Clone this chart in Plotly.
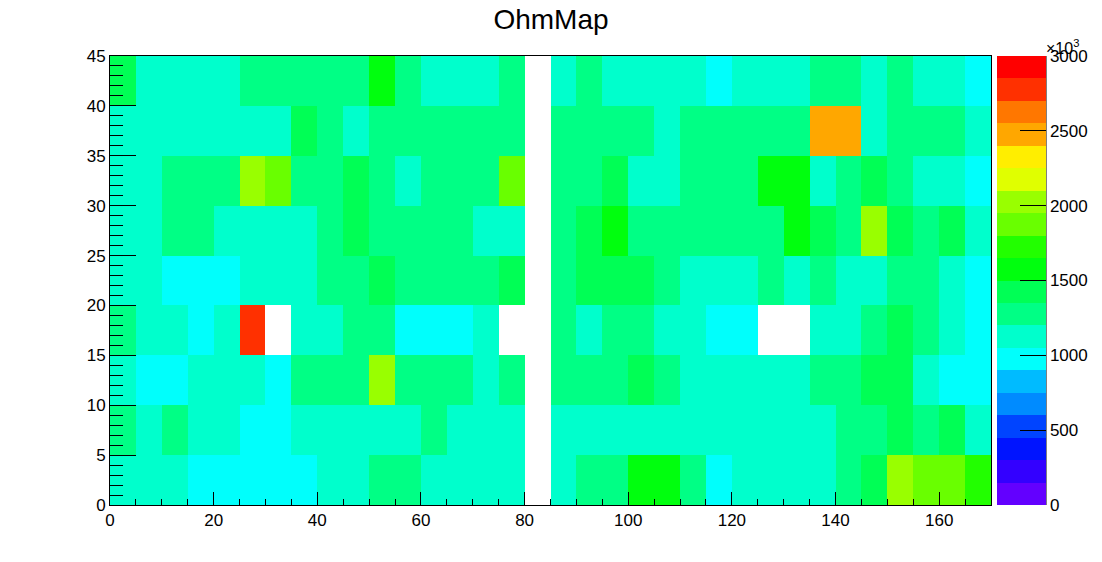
import plotly.graph_objects as go

# Bin edges of the 2-D histogram
x_edges = list(range(0, 175, 5))   # 0 .. 170, 34 bins
y_edges = list(range(0, 50, 5))    # 0 .. 45, 9 bins

# Cell values in units of 10^3 (None = empty bin, not drawn)
row_y00 = [1125, 1125, 1125, 975, 975, 975, 975, 975, 1125, 1125, 1275, 1275, 1125, 1125, 1125, 1125, None, 1125, 1275, 1275, 1575, 1575, 1275, 975, 1125, 1125, 1125, 1125, 1275, 1425, 2025, 1875, 1875, 1725]
row_y05 = [1275, 1125, 1275, 1125, 1125, 975, 975, 1125, 1125, 1125, 1125, 1125, 1275, 1125, 1125, 1125, None, 1125, 1125, 1125, 1125, 1125, 1125, 1125, 1125, 1125, 1125, 1125, 1275, 1275, 1425, 1275, 1425, 1125]
row_y10 = [1125, 975, 975, 1125, 1125, 1125, 975, 1275, 1275, 1275, 2025, 1275, 1275, 1275, 1125, 1275, None, 1275, 1275, 1275, 1425, 1275, 1125, 1125, 1125, 1125, 1125, 1275, 1275, 1425, 1425, 1125, 975, 975]
row_y15 = [1275, 1125, 1125, 975, 1125, 2775, None, 1125, 1125, 1275, 1275, 975, 975, 975, 1125, None, None, 1275, 1125, 1275, 1275, 1125, 1125, 975, 975, None, None, 1125, 1125, 1275, 1425, 1275, 1125, 975]
row_y20 = [1125, 1125, 975, 975, 975, 1125, 1125, 1125, 1275, 1275, 1425, 1275, 1275, 1275, 1275, 1425, None, 1275, 1425, 1425, 1425, 1275, 1125, 1125, 1125, 1275, 1125, 1275, 1125, 1125, 1275, 1275, 1125, 975]
row_y25 = [1125, 1125, 1275, 1275, 1125, 1125, 1125, 1125, 1275, 1425, 1275, 1275, 1275, 1275, 1125, 1125, None, 1275, 1425, 1575, 1275, 1275, 1275, 1275, 1275, 1275, 1575, 1425, 1275, 2025, 1425, 1275, 1425, 1125]
row_y30 = [1125, 1125, 1275, 1275, 1275, 2025, 1875, 1275, 1275, 1425, 1275, 1125, 1275, 1275, 1275, 1875, None, 1275, 1275, 1425, 1125, 1125, 1275, 1275, 1275, 1575, 1575, 1125, 1275, 1425, 1275, 1125, 1125, 975]
row_y35 = [1125, 1125, 1125, 1125, 1125, 1125, 1125, 1425, 1275, 1125, 1275, 1275, 1275, 1275, 1275, 1275, None, 1275, 1275, 1275, 1275, 1125, 1275, 1275, 1275, 1275, 1275, 2475, 2475, 1125, 1275, 1275, 1275, 1125]
row_y40 = [1425, 1125, 1125, 1125, 1125, 1275, 1275, 1275, 1275, 1275, 1575, 1275, 1125, 1125, 1125, 1275, None, 1125, 1275, 1125, 1125, 1125, 1125, 975, 1125, 1125, 1125, 1275, 1275, 1125, 1275, 1125, 1125, 975]

z_rows = [row_y00, row_y05, row_y10, row_y15, row_y20, row_y25, row_y30, row_y35, row_y40]

# Palette levels (20 contours, 0 .. 3000 x10^3)
palette = ["#6300ff", "#3300ff", "#0014ff", "#0044ff", "#008bff", "#00bbff",
           "#00fffc", "#00ffcc", "#00ff85", "#00ff55", "#00ff0e", "#22ff00",
           "#69ff00", "#99ff00", "#e0ff00", "#ffee00", "#ffa700", "#ff7700",
           "#ff3000", "#ff0000"]
z_min, z_max = 0, 3000
cbar_ticks = [0, 500, 1000, 1500, 2000, 2500, 3000]
x_ticks = [0, 20, 40, 60, 80, 100, 120, 140, 160]
y_ticks = [0, 5, 10, 15, 20, 25, 30, 35, 40, 45]

n = len(palette)
colorscale = []
for i, c in enumerate(palette):
    colorscale.append([i / n, c])
    colorscale.append([(i + 1) / n, c])

FONT = "Liberation Sans, Arial, Helvetica, sans-serif"
W, H = 1102, 562
L, R, T, B = 110, 991, 56, 505

fig = go.Figure()
fig.add_trace(go.Heatmap(
    x=x_edges, y=y_edges, z=z_rows,
    zmin=z_min, zmax=z_max, colorscale=colorscale,
    hoverongaps=False,
    colorbar=dict(
        thickness=49, thicknessmode="pixels",
        len=1, lenmode="fraction", y=0.5, yanchor="middle",
        x=(997 - L) / (R - L), xanchor="left", xpad=0, ypad=0,
        outlinewidth=0,
        tickmode="array", tickvals=cbar_ticks,
        ticks="inside", ticklen=26, tickcolor="black", tickwidth=1,
        tickfont=dict(family=FONT, size=17, color="black"),
    ),
))

fig.update_layout(
    width=W, height=H,
    margin=dict(l=L, r=W - R, t=T, b=H - B, autoexpand=False),
    paper_bgcolor="white", plot_bgcolor="white",
    title=dict(text="OhmMap", x=0.5, xanchor="center", xref="container",
               y=1 - 19 / H, yanchor="middle", yref="container",
               font=dict(family=FONT, size=28, color="black")),
    font=dict(family=FONT, color="black"),
)

fig.update_xaxes(
    range=[0, 170], tickmode="array", tickvals=x_ticks,
    ticks="inside", ticklen=13, tickcolor="black", tickwidth=1,
    showline=True, linecolor="black", linewidth=1, mirror=True,
    showgrid=False, zeroline=False,
    tickfont=dict(family=FONT, size=17, color="black"),
    minor=dict(dtick=5, tick0=0, ticks="inside", ticklen=6, tickcolor="black", tickwidth=1, showgrid=False),
)
fig.update_yaxes(
    range=[0, 45], tickmode="array", tickvals=y_ticks,
    ticks="inside", ticklen=26, tickcolor="black", tickwidth=1,
    showline=True, linecolor="black", linewidth=1, mirror=True,
    showgrid=False, zeroline=False,
    tickfont=dict(family=FONT, size=17, color="black"),
    minor=dict(dtick=1, tick0=0, ticks="inside", ticklen=13, tickcolor="black", tickwidth=1, showgrid=False),
)

# right-hand axis line of the palette
xr = (1046 - L) / (R - L)
fig.add_shape(type="line", xref="paper", yref="paper", x0=xr, x1=xr, y0=0, y1=1,
              line=dict(color="black", width=1))

# exponent label of the palette axis
fig.add_annotation(text="\u00d710<sup>3</sup>", xref="paper", yref="paper",
                   x=xr - 0.002, y=1 + 9 / (B - T), xanchor="left", yanchor="middle",
                   showarrow=False, font=dict(family=FONT, size=16, color="black"))

fig.write_html("out.html", config={"displayModeBar": False},
               post_script="document.body.style.margin='0px';document.body.style.overflow='hidden';")
